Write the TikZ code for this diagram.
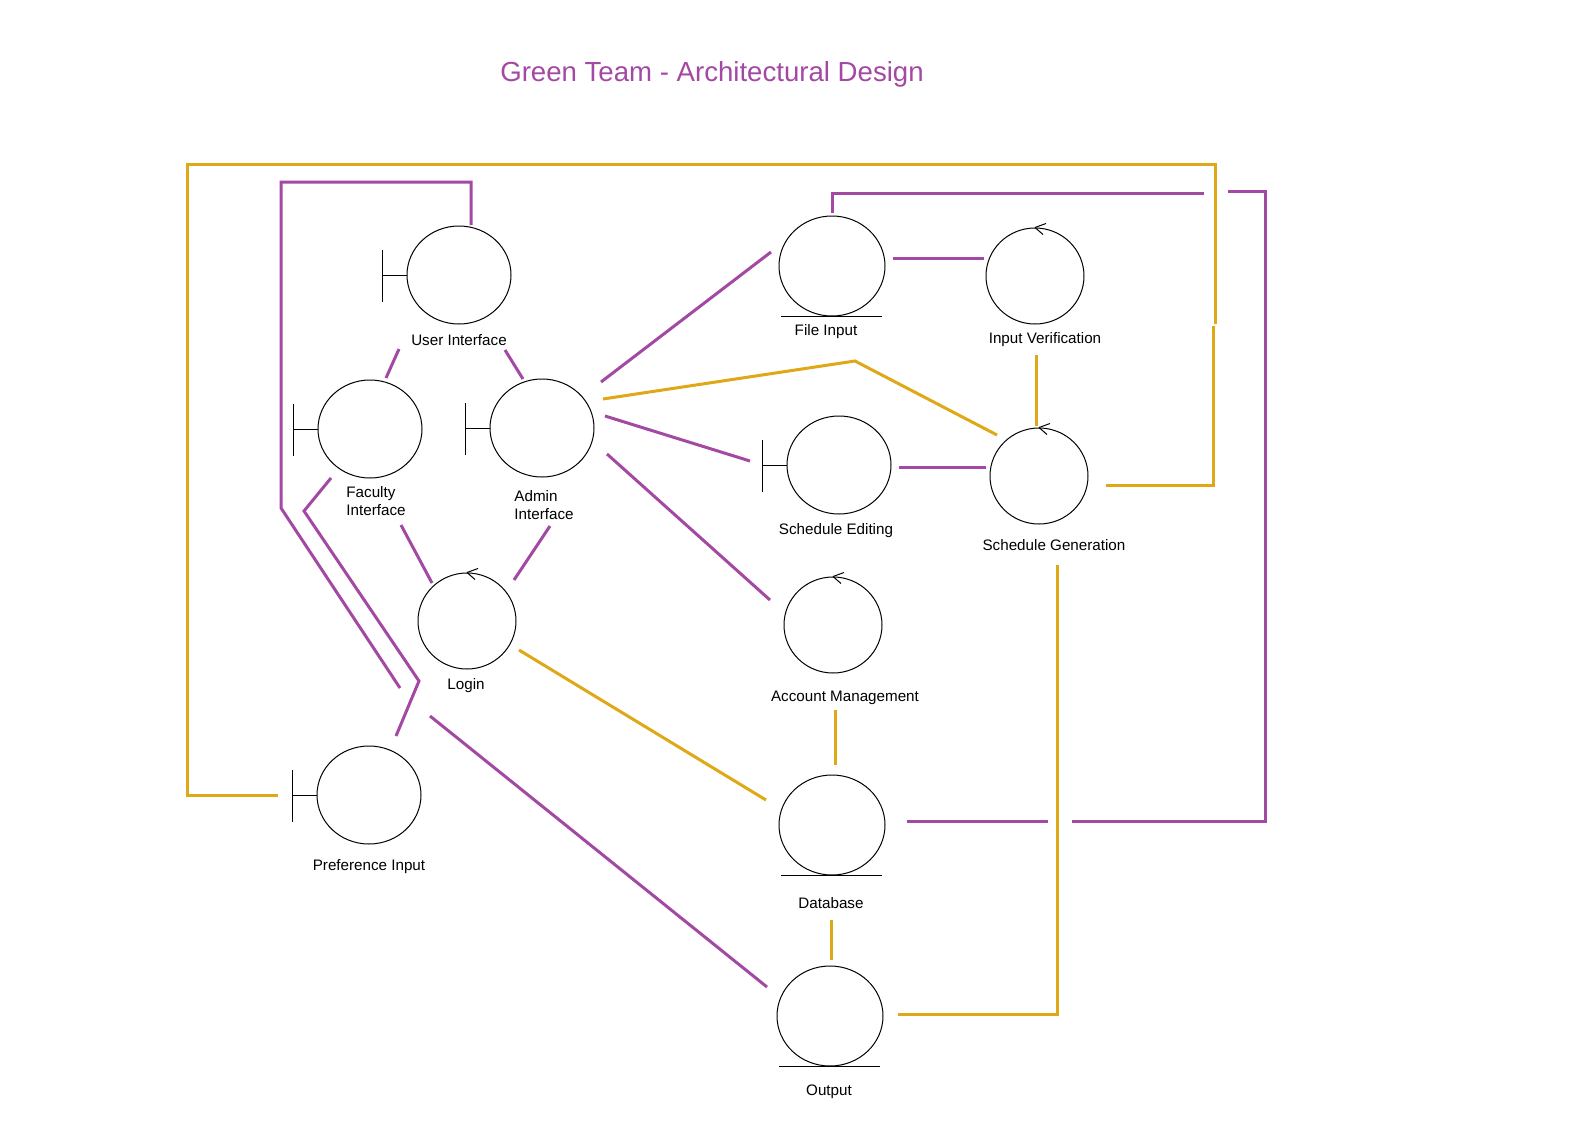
\documentclass[tikz,border=0pt]{standalone}
\usepackage{fontspec}
\setmainfont{Liberation Sans}
\usetikzlibrary{shapes.geometric}
\definecolor{pur}{RGB}{163,73,164}
\definecolor{gld}{RGB}{222,168,22}
\begin{document}
\begin{tikzpicture}[x=0.5pt,y=-0.5pt,
  obj/.style={ellipse,draw=black,line width=0.5pt,inner sep=0pt,minimum width=52pt,minimum height=49pt},
  ctl/.style={ellipse,draw=black,line width=0.5pt,inner sep=0pt,minimum width=49pt,minimum height=48pt},
  ent/.style={ellipse,draw=black,line width=0.5pt,inner sep=0pt,minimum width=53pt,minimum height=50pt},
  lbl/.style={font=\fontsize{7.6}{9}\selectfont,inner sep=0pt,align=left,yshift=-1.25pt},
  pl/.style={draw=pur,line width=1.5pt},
  gl/.style={draw=gld,line width=1.5pt},
  sym/.style={draw=black,line width=0.5pt}]
\useasboundingbox[fill=white] (0,0) rectangle (1570,1146);

\node[font=\fontsize{13.8}{16}\selectfont,text=pur,inner sep=0pt] (title) at (712,74) {Green Team - Architectural Design};

% objects
\node[obj] (ui) at (459,275) {};
\node[obj] (fi) at (370,429) {};
\node[obj] (ai) at (542,428) {};
\node[ctl] (lg) at (467,621) {};
\node[obj] (pi) at (369,795) {};
\node[ent] (fin) at (832,266) {};
\node[ctl] (iv) at (1035,276) {};
\node[obj] (se) at (839,465) {};
\node[ctl] (sg) at (1039,476) {};
\node[ctl] (am) at (833,625) {};
\node[ent] (db) at (832,825) {};
\node[ent] (op) at (830,1016) {};

% boundary symbols
\foreach \n in {ui,fi,ai,pi,se}
  \draw[sym] (\n.west) -- ++(-24,0) ++(0,-25) -- ++(0,52);
% entity symbols
\foreach \n in {fin,db,op}
  \draw[sym] ([xshift=-25.5pt]\n.south) -- ([xshift=25pt]\n.south);
% control symbols
\foreach \n in {lg,iv,sg,am}
  \draw[sym] (\n.north) -- ++(11,-4) (\n.north) -- ++(8,7);

% labels
\node[lbl] (l-ui) at (459,338) {User Interface};
\node[lbl] (l-fi) at (376,499) {Faculty\\Interface};
\node[lbl] (l-ai) at (544,503) {Admin\\Interface};
\node[lbl] (l-lg) at (466,683) {Login};
\node[lbl] (l-pi) at (369,864) {Preference Input};
\node[lbl] (l-fin) at (826,329) {File Input};
\node[lbl] (l-iv) at (1045,337) {Input Verification};
\node[lbl] (l-se) at (836,528) {Schedule Editing};
\node[lbl] (l-sg) at (1054,543) {Schedule Generation};
\node[lbl] (l-am) at (845,695) {Account Management};
\node[lbl] (l-db) at (831,901) {Database};
\node[lbl] (l-op) at (829,1089) {Output};

% gold connectors
\draw[gl] (278,795) -- (187,795) -- (187,164) -- (1215,164) -- (1215,324);
\draw[gl] (1213,326) -- (1213,485) -- (1106,485);
\draw[gl] (603,399) -- (855,361) -- (997,435);
\draw[gl] (1036,355) -- (1036,426);
\draw[gl] (519,650) -- (766,800);
\draw[gl] (835,710) -- (835,765);
\draw[gl] (831,920) -- (831,960);
\draw[gl] (1057,565) -- (1057,1014) -- (898,1014);

% purple connectors
\draw[pl] (471,225) -- (471,182) -- (281,182) -- (281,508) -- (400,688);
\draw[pl] (331,478) -- (304,511) -- (419,681) -- (396,736);
\draw[pl] (399,349) -- (386,378);
\draw[pl] (505,350) -- (523,379);
\draw[pl] (401,525) -- (432,583);
\draw[pl] (550,526) -- (514,580);
\draw[pl] (601,382) -- (771,252);
\draw[pl] (605,416) -- (750,461);
\draw[pl] (607,454) -- (770,600);
\draw[pl] (430,716) -- (767,987);
\draw[pl] (893,258) -- (984,258);
\draw[pl] (899,467) -- (986,467);
\draw[pl] (832,213) -- (832,193) -- (1204,193);
\draw[pl] (1228,191) -- (1265,191) -- (1265,821) -- (1072,821);
\draw[pl] (907,821) -- (1048,821);
\end{tikzpicture}
\end{document}
